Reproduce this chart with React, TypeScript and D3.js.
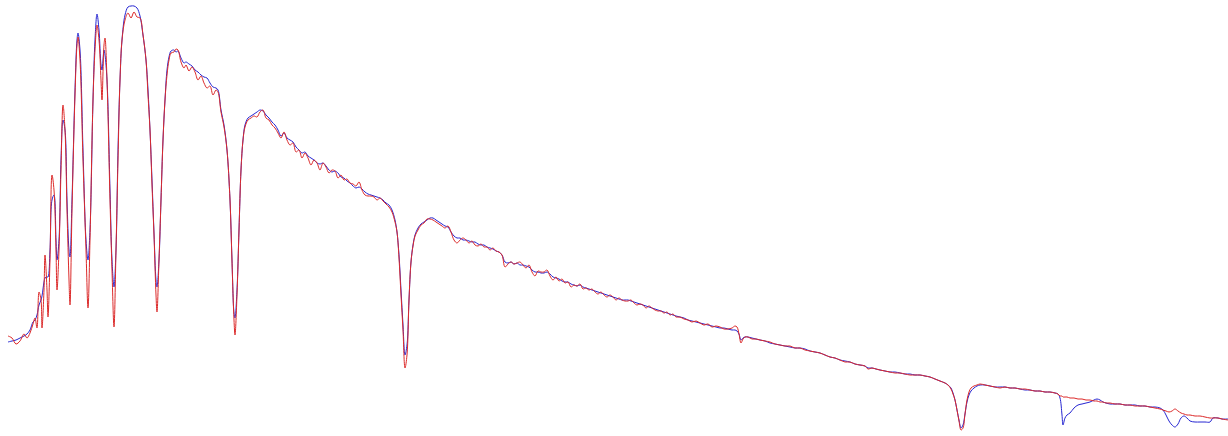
import { useMemo } from 'react';
import * as d3 from 'd3';

const W = 1228;
const H = 436;

// sample position (channel) shared by both spectra
const channel = [
  8, 12, 16, 20, 24, 27, 30, 33, 35, 37, 39, 41, 42, 44, 45, 47, 48, 50, 52, 54,
  56, 57, 59, 61, 63, 65, 67, 69, 70, 72, 75, 77, 78, 80, 83, 86, 88, 90, 93, 95,
  97, 99, 101, 102, 104, 105, 107, 110, 112, 114, 116, 118, 120, 122, 125, 128, 131, 134, 137, 140,
  143, 146, 148, 150, 152, 154, 156, 157, 159, 161, 163, 165, 167, 169, 171, 174, 176, 178, 181, 184,
  186, 189, 192, 195, 198, 201, 204, 207, 210, 213, 216, 218, 221, 224, 227, 230, 232, 234, 235, 237,
  239, 241, 243, 245, 248, 251, 254, 257, 260, 263, 266, 269, 272, 275, 278, 281, 284, 287, 290, 293,
  296, 299, 302, 305, 308, 311, 314, 317, 320, 323, 326, 329, 332, 335, 338, 341, 344, 347, 350, 353,
  356, 359, 362, 365, 368, 371, 374, 377, 380, 383, 386, 389, 392, 395, 397, 399, 401, 403, 405, 407,
  409, 411, 413, 415, 418, 421, 424, 427, 430, 433, 436, 439, 442, 445, 448, 451, 454, 457, 460, 463,
  466, 469, 472, 475, 478, 481, 484, 487, 490, 493, 496, 499, 502, 505, 508, 511, 514, 517, 520, 523,
  526, 529, 532, 535, 538, 541, 544, 547, 550, 553, 556, 559, 562, 565, 568, 571, 574, 577, 580, 583,
  586, 589, 592, 595, 598, 601, 604, 607, 610, 613, 616, 619, 622, 625, 628, 631, 634, 637, 640, 643,
  646, 649, 652, 655, 658, 661, 664, 667, 670, 673, 676, 680, 684, 688, 692, 696, 700, 704, 708, 712,
  716, 720, 724, 728, 732, 735, 737, 739, 741, 743, 745, 748, 752, 756, 760, 765, 770, 775, 780, 785,
  790, 795, 800, 805, 810, 815, 820, 825, 830, 835, 840, 845, 850, 855, 860, 865, 868, 872, 876, 880,
  885, 890, 895, 900, 905, 910, 915, 920, 925, 930, 935, 940, 945, 948, 951, 953, 955, 957, 959, 961,
  963, 965, 967, 969, 971, 974, 977, 980, 985, 990, 995, 1000, 1005, 1010, 1015, 1020, 1025, 1030, 1035, 1040,
  1045, 1050, 1055, 1058, 1060, 1062, 1063, 1065, 1067, 1070, 1074, 1078, 1082, 1086, 1090, 1094, 1097, 1100, 1103, 1106,
  1110, 1115, 1120, 1125, 1130, 1135, 1140, 1145, 1150, 1155, 1160, 1163, 1166, 1169, 1172, 1175, 1178, 1181, 1184, 1187,
  1190, 1195, 1200, 1205, 1210, 1213, 1218, 1222, 1228,
];

// measured spectrum (blue)
const measured = [
  94, 95, 96, 98, 100, 102, 106, 114, 116, 121, 131, 136, 140, 154, 158, 159, 159, 186, 236, 241,
  196, 176, 196, 276, 316, 306, 236, 186, 179, 236, 346, 396, 403, 386, 286, 196, 176, 206, 336, 396,
  422, 406, 371, 366, 386, 381, 356, 246, 176, 149, 186, 286, 356, 396, 421, 429, 430, 430, 428, 420,
  401, 376, 346, 306, 256, 203, 156, 149, 176, 236, 296, 336, 366, 379, 385, 386, 384, 385, 378, 373,
  374, 372, 370, 366, 364, 361, 359, 358, 353, 349, 348, 346, 326, 311, 286, 236, 176, 123, 118, 146,
  206, 266, 296, 311, 318, 320, 322, 324, 326, 325, 321, 318, 314, 311, 306, 300, 303, 298, 296, 294,
  289, 286, 283, 284, 280, 278, 276, 273, 272, 273, 270, 266, 264, 265, 263, 259, 258, 255, 253, 250,
  248, 249, 247, 244, 242, 241, 240, 239, 238, 236, 233, 231, 226, 216, 204, 181, 146, 111, 81, 91,
  136, 174, 191, 201, 208, 212, 214, 216, 218, 218, 216, 214, 212, 210, 209, 204, 200, 198, 198, 196,
  196, 195, 194, 194, 192, 191, 191, 189, 188, 187, 185, 184, 181, 174, 173, 174, 172, 173, 171, 171,
  170, 169, 166, 164, 164, 163, 163, 164, 162, 159, 158, 157, 155, 154, 154, 152, 151, 150, 151, 149,
  148, 147, 146, 145, 144, 143, 142, 141, 140, 139, 138, 137, 136, 136, 136, 135, 134, 133, 132, 131,
  130, 129, 128, 127, 126, 125, 124, 123, 122, 121, 120, 119, 118, 116, 115, 114, 113, 112, 111, 110,
  109, 108, 108, 107, 106, 106, 105, 102, 96, 98, 99, 99, 98, 97, 96, 95, 93, 92, 91, 90,
  89, 88, 88, 87, 85, 84, 83, 81, 79, 78, 76, 75, 74, 72, 71, 70, 68, 68, 67, 66,
  65, 64, 64, 63, 62, 62, 61, 61, 60, 59, 57, 55, 53, 51, 48, 43, 36, 26, 16, 8,
  11, 22, 34, 41, 45, 48, 50, 51, 51, 50, 49, 49, 49, 48, 48, 47, 46, 46, 45, 45,
  44, 44, 43, 42, 38, 21, 11, 18, 21, 23, 28, 31, 32, 33, 34, 36, 37, 36, 34, 33,
  32, 32, 32, 31, 31, 31, 30, 30, 29, 29, 28, 26, 21, 15, 11, 9, 12, 18, 20, 18,
  15, 14, 14, 14, 14, 18, 18, 17, 17,
];

// modelled spectrum (red)
const modelled = [
  100, 98, 92, 95, 102, 98, 103, 112, 118, 108, 144, 136, 108, 146, 181, 146, 119, 176, 261, 246,
  186, 146, 186, 266, 331, 306, 226, 156, 131, 226, 341, 391, 399, 376, 276, 186, 128, 196, 336, 386,
  411, 396, 356, 336, 391, 398, 356, 236, 166, 109, 186, 276, 356, 396, 416, 423, 418, 424, 419, 418,
  401, 376, 341, 306, 251, 201, 141, 124, 176, 236, 296, 336, 361, 376, 383, 384, 387, 386, 374, 368,
  371, 365, 369, 364, 356, 360, 353, 348, 350, 341, 346, 344, 324, 309, 286, 236, 174, 116, 101, 141,
  206, 266, 296, 309, 316, 318, 320, 319, 324, 326, 318, 316, 311, 308, 303, 298, 304, 296, 291, 293,
  284, 286, 278, 283, 278, 271, 276, 273, 266, 273, 269, 263, 266, 265, 258, 261, 256, 257, 253, 252,
  250, 254, 246, 241, 240, 240, 239, 236, 238, 235, 232, 229, 224, 214, 204, 178, 141, 106, 68, 81,
  136, 174, 190, 200, 206, 211, 213, 217, 217, 216, 214, 212, 210, 208, 210, 204, 196, 193, 196, 198,
  196, 193, 195, 191, 190, 192, 189, 189, 186, 188, 185, 184, 181, 169, 172, 174, 172, 173, 174, 171,
  168, 171, 164, 160, 165, 164, 164, 166, 160, 156, 159, 155, 157, 153, 154, 149, 151, 150, 152, 147,
  148, 146, 147, 144, 142, 144, 141, 139, 141, 139, 136, 138, 136, 135, 135, 136, 133, 131, 132, 131,
  128, 130, 128, 126, 125, 125, 123, 124, 121, 122, 119, 119, 117, 116, 114, 115, 113, 111, 112, 109,
  110, 109, 107, 107, 108, 110, 109, 102, 93, 97, 99, 99, 97, 97, 96, 95, 94, 92, 91, 90,
  90, 88, 88, 86, 85, 84, 83, 81, 79, 78, 76, 74, 74, 72, 71, 70, 67, 68, 67, 66,
  65, 64, 63, 63, 62, 61, 61, 61, 60, 59, 57, 55, 53, 51, 47, 42, 36, 26, 15, 6,
  8, 22, 36, 44, 48, 50, 51, 52, 51, 50, 49, 48, 49, 48, 48, 47, 47, 46, 45, 45,
  44, 44, 43, 42, 40, 40, 39, 39, 39, 38, 38, 37, 37, 36, 36, 35, 35, 34, 34, 33,
  33, 32, 32, 31, 31, 30, 30, 30, 29, 28, 27, 26, 25, 24, 25, 27, 25, 23, 22, 21,
  21, 20, 20, 19, 18, 18, 18, 17, 16,
];

const seriesList = [
  { name: 'measured', values: measured, color: '#2626d2' },
  { name: 'modelled', values: modelled, color: '#dc2a2a' },
];

export default function App() {
  const x = d3.scaleLinear().domain([0, W]).range([0, W]);
  const y = d3.scaleLinear().domain([0, H]).range([H, 0]);

  const paths = useMemo(() => {
    return seriesList.map(s => {
      const line = d3.line<number>()
        .x((_, i) => x(channel[i]))
        .y(v => y(v))
        .curve(d3.curveCatmullRom.alpha(0.5));
      return { ...s, d: line(s.values) || '' };
    });
  }, []);

  return (
    <svg
      width={W}
      height={H}
      style={{ position: 'absolute', left: 0, top: 0, background: '#fff' }}
    >
      {paths.map(p => (
        <path key={p.name} d={p.d} fill="none" stroke={p.color} strokeWidth={1} strokeLinejoin="round" />
      ))}
    </svg>
  );
}
